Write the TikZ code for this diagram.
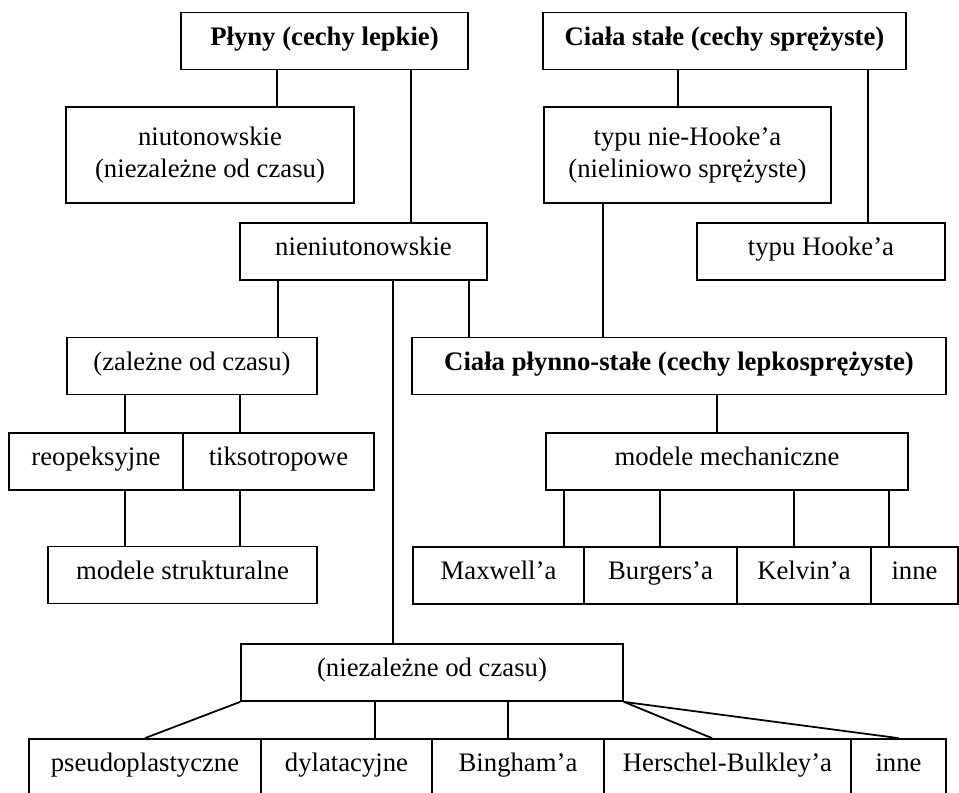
\documentclass[tikz,border=0pt]{standalone}
\usepackage{fontspec}
\setmainfont{Liberation Serif}
\usepackage{tikz}
\usetikzlibrary{positioning,calc}

\tikzset{
  ramka/.style={draw, line width=1pt, inner sep=0pt, align=center,
    minimum width=#1*0.02cm},
  blok/.style={ramka=#1, minimum height=57*0.02cm,
    text height=0.68em, text depth=0.22em},
  blok2/.style={ramka=#1, minimum height=96*0.02cm},
  lin/.style={line width=1pt},
}

\begin{document}
\begin{tikzpicture}[x=0.02cm,y=-0.02cm,font=\fontsize{15.2}{18}\selectfont]
  \useasboundingbox (0,0) rectangle (959,793);
  % gorne bloki
  \node[blok=287] (plyny) at (324.5,41) {\textbf{Płyny (cechy lepkie)}};
  \node[blok=363] (stale) at (724.5,41) {\textbf{Ciała stałe (cechy sprężyste)}};
  \node[blok2=288] (niut) at (210,155) {niutonowskie\\(niezależne od czasu)};
  \node[blok2=287] (niehooke) at (687.5,155) {typu nie-Hooke’a\\(nieliniowo sprężyste)};
  \node[blok=247] (nieniut) at (363.5,251.5) {nieniutonowskie};
  \node[blok=248] (hooke) at (821,251.5) {typu Hooke’a};
  % poziom srodkowy
  \node[blok=250] (zalez) at (192,366) {(zależne od czasu)};
  \node[blok=534] (plynsta) at (679,366) {\textbf{Ciała płynno-stałe (cechy lepkosprężyste)}};
  \node[blok=174] (reo) at (96,461.5) {reopeksyjne};
  \node[blok=191] (tikso) at (278.5,461.5) {tiksotropowe};
  \node[blok=362] (mech) at (727,461.5) {modele mechaniczne};
  \node[blok=269] (strukt) at (182.5,575) {modele strukturalne};
  \node[blok=171] (maxw) at (498.5,575.5) {Maxwell’a};
  \node[blok=153] (burg) at (660.5,575.5) {Burgers’a};
  \node[blok=134] (kelv) at (804,575.5) {Kelvin’a};
  \node[blok=87] (inneA) at (914.5,575.5) {inne};
  % dolny rzad
  \node[blok=382] (niezal) at (432,672.5) {(niezależne od czasu)};
  \node[blok=232] (pseudo) at (145,767.5) {pseudoplastyczne};
  \node[blok=171] (dylat) at (346.5,767.5) {dylatacyjne};
  \node[blok=172] (bing) at (518,767.5) {Bingham’a};
  \node[blok=247] (hersch) at (727.5,767.5) {Herschel-Bulkley’a};
  \node[blok=95] (inneB) at (898.5,767.5) {inne};
  % polaczenia pionowe
  \draw[lin] (plyny.south -| 277,0) -- (niut.north -| 277,0);
  \draw[lin] (plyny.south -| 411,0) -- (nieniut.north -| 411,0);
  \draw[lin] (stale.south -| 678,0) -- (niehooke.north -| 678,0);
  \draw[lin] (stale.south -| 868,0) -- (hooke.north -| 868,0);
  \draw[lin] (nieniut.south -| 278,0) -- (zalez.north -| 278,0);
  \draw[lin] (nieniut.south -| 393,0) -- (niezal.north -| 393,0);
  \draw[lin] (nieniut.south -| 469,0) -- (plynsta.north -| 469,0);
  \draw[lin] (niehooke.south -| 603,0) -- (plynsta.north -| 603,0);
  \draw[lin] (plynsta.south -| 717,0) -- (mech.north -| 717,0);
  \foreach \x/\n in {125/reo,240/tikso}
    {\draw[lin] (zalez.south -| \x,0) -- (\n.north -| \x,0);
     \draw[lin] (\n.south -| \x,0) -- (strukt.north -| \x,0);}
  \foreach \x/\n in {564/maxw,660/burg,794/kelv,889/inneA}
    \draw[lin] (mech.south -| \x,0) -- (\n.north -| \x,0);
  \foreach \x/\n in {375/dylat,508/bing}
    \draw[lin] (niezal.south -| \x,0) -- (\n.north -| \x,0);
  % polaczenia ukosne
  \draw[lin] (niezal.south west) -- (pseudo.north);
  \draw[lin] (niezal.south east) -- (hersch.north -| 712,0);
  \draw[lin] (niezal.south east) -- (inneB.north);
\end{tikzpicture}
\end{document}
